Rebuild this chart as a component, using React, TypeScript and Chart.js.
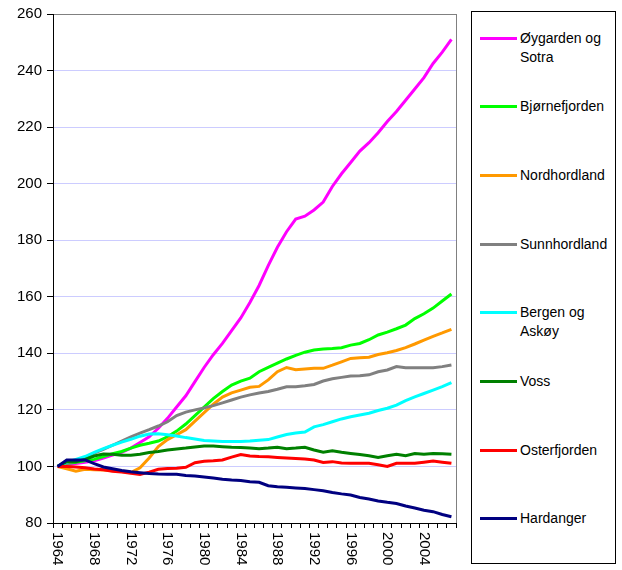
import React, { useEffect, useRef } from "react";
import { Chart, registerables } from "chart.js";

Chart.register(...registerables);

const years: string[] = [];
for (let y = 1964; y <= 2007; y++) years.push(String(y));

const seriesNames = [
  "Øygarden og Sotra",
  "Bjørnefjorden",
  "Nordhordland",
  "Sunnhordland",
  "Bergen og Askøy",
  "Voss",
  "Osterfjorden",
  "Hardanger",
];

const seriesColors = ["#FF00FF", "#00FF00", "#FF9900", "#808080", "#00FFFF", "#008000", "#FF0000", "#000080"];

const oygarden = [100, 100.5, 101, 101.5, 102, 103, 104, 105, 106.5, 108.5, 110.5, 113.5, 117, 121, 125, 130, 135, 139.5, 143.5, 148, 152.5, 158, 164, 171, 177.5, 183, 187.5, 188.5, 190.7, 193.5, 199, 203.5, 207.5, 211.5, 214.5, 218, 222, 225.5, 229.5, 233.5, 237.5, 242.5, 246.5, 251];
const bjornefjorden = [100, 101, 101.5, 102, 102.5, 103.5, 104.5, 105.3, 106.5, 107.5, 108.2, 109, 110.5, 112.5, 115, 118, 121, 124, 126.5, 128.8, 130.2, 131.2, 133.5, 135, 136.5, 138, 139.3, 140.4, 141.2, 141.5, 141.7, 142, 142.9, 143.5, 144.8, 146.5, 147.5, 148.7, 150, 152.3, 154, 156, 158.5, 161];
const nordhordland = [100, 99.2, 98.3, 99, 98.8, 98.7, 98.5, 98.2, 97.8, 99.5, 103, 107, 109.5, 111.2, 113, 116, 119, 122, 124.5, 126, 127, 128, 128.3, 130.6, 133.5, 135, 134.2, 134.5, 134.7, 134.7, 135.8, 137, 138.2, 138.4, 138.6, 139.6, 140.2, 141, 142, 143.3, 144.7, 146, 147.2, 148.5];
const sunnhordland = [100, 101, 102, 103, 104.7, 106, 107.5, 109, 110.5, 111.8, 113, 114.3, 115.8, 118, 119.2, 120, 120.7, 121.5, 122.5, 123.5, 124.5, 125.3, 126, 126.5, 127.3, 128.2, 128.2, 128.5, 129, 130.2, 131, 131.5, 132, 132.1, 132.4, 133.5, 134.1, 135.3, 134.9, 134.9, 134.9, 134.9, 135.3, 135.9];
const bergenAskoy = [100, 101.5, 102.5, 103.5, 105, 106.3, 107.5, 108.6, 109.6, 110.7, 111.5, 111.6, 111.2, 110.8, 110.2, 109.7, 109.2, 109, 108.8, 108.8, 108.8, 109, 109.3, 109.5, 110.4, 111.3, 111.8, 112.2, 114, 114.8, 115.8, 116.8, 117.6, 118.2, 118.8, 119.8, 120.6, 121.7, 123.3, 124.6, 125.8, 127, 128.2, 129.6];
const voss = [100, 101.7, 101.7, 102.5, 103.7, 104.4, 104.3, 104, 104, 104.3, 104.9, 105.3, 105.8, 106.2, 106.5, 106.9, 107.2, 107.2, 107, 106.8, 106.7, 106.5, 106.3, 106.5, 106.8, 106.3, 106.5, 106.8, 105.8, 105, 105.5, 105, 104.6, 104.2, 103.8, 103.2, 103.8, 104.3, 103.8, 104.6, 104.3, 104.6, 104.5, 104.3];
const osterfjorden = [100, 100, 99.8, 99.5, 99.1, 98.8, 98.3, 98, 97.6, 97.2, 98, 99, 99.3, 99.4, 99.7, 101.3, 101.8, 102, 102.3, 103.3, 104.2, 103.7, 103.5, 103.4, 103.2, 103, 102.8, 102.6, 102.3, 101.4, 101.7, 101.2, 101.1, 101.1, 101.1, 100.6, 100, 101.1, 101.1, 101.1, 101.5, 101.9, 101.5, 101.1];
const hardanger = [100, 102.3, 102.3, 102.3, 101, 99.8, 99.2, 98.6, 98.1, 97.8, 97.5, 97.3, 97.2, 97.2, 96.8, 96.6, 96.3, 95.9, 95.5, 95.2, 95, 94.6, 94.4, 93.2, 92.8, 92.6, 92.4, 92.2, 91.8, 91.4, 90.8, 90.3, 89.9, 89, 88.5, 87.8, 87.3, 86.9, 86, 85.3, 84.5, 84, 83, 82.2];

const seriesValues = [oygarden, bjornefjorden, nordhordland, sunnhordland, bergenAskoy, voss, osterfjorden, hardanger];

const yMin = 80;
const yMax = 260;
const yStep = 20;
const labelEvery = 4;

const FONT = "'Liberation Sans', Arial, sans-serif";

const CANVAS_W = 465;
const CANVAS_H = 600;

export default function App() {
  const ref = useRef<HTMLCanvasElement | null>(null);

  useEffect(() => {
    if (!ref.current) return;
    const frame = {
      id: "frameAndLabels",
      afterDraw(chart: any) {
        const { ctx, chartArea } = chart;
        ctx.save();
        ctx.strokeStyle = "#808080";
        ctx.lineWidth = 1;
        ctx.beginPath();
        ctx.moveTo(Math.round(chartArea.right) + 0.5, chartArea.top);
        ctx.lineTo(Math.round(chartArea.right) + 0.5, chartArea.bottom);
        ctx.stroke();
        const xs = chart.scales.x;
        ctx.fillStyle = "#000";
        ctx.font = `15px ${FONT}`;
        ctx.textAlign = "left";
        ctx.textBaseline = "middle";
        years.forEach((lab, i) => {
          if (i % labelEvery !== 0) return;
          const x = xs.getPixelForValue(i);
          ctx.save();
          ctx.translate(x, chartArea.bottom + 9);
          ctx.rotate(Math.PI / 2);
          ctx.fillText(lab, 0, 0);
          ctx.restore();
        });
        ctx.restore();
      },
    };
    const chart = new Chart(ref.current, {
      type: "line",
      data: {
        labels: years,
        datasets: seriesNames.map((name, i) => ({
          label: name,
          data: seriesValues[i],
          borderColor: seriesColors[i],
          backgroundColor: seriesColors[i],
          borderWidth: 3,
          pointRadius: 0,
          tension: 0,
          order: seriesNames.length - i,
        })),
      },
      options: {
        responsive: false,
        animation: false,
        events: [],
        layout: { padding: { top: 13, right: 9, left: 0, bottom: 0 } },
        plugins: { legend: { display: false }, tooltip: { enabled: false } },
        scales: {
          x: {
            type: "category",
            offset: true,
            grid: {
              offset: true,
              drawOnChartArea: false,
              drawTicks: true,
              tickLength: 5,
              tickColor: "#000",
            },
            border: { color: "#000", width: 1 },
            ticks: { autoSkip: false, maxRotation: 0, minRotation: 0, callback: () => "" },
            afterFit: (s: any) => {
              s.height = CANVAS_H - 523;
            },
          },
          y: {
            min: yMin,
            max: yMax,
            grid: {
              color: (c: any) => (c.tick && c.tick.value === yMax ? "#808080" : "#CCCCFF"),
              tickColor: "#000",
              tickLength: 6,
            },
            border: { color: "#000", width: 1 },
            ticks: {
              stepSize: yStep,
              color: "#000",
              padding: 5,
              font: { family: FONT, size: 15 },
            },
            afterFit: (s: any) => {
              s.width = 53;
            },
          },
        },
      },
      plugins: [frame],
    } as any);
    return () => chart.destroy();
  }, []);

  const legendTop0 = 37;
  const legendGap = 68.7;

  return (
    <div style={{ position: "absolute", left: 0, top: 0, width: 622, height: 570, overflow: "hidden", background: "#fff" }}>
      <canvas ref={ref} width={CANVAS_W} height={CANVAS_H} style={{ position: "absolute", left: 0, top: 0, width: CANVAS_W, height: CANVAS_H }} />
      <div
        style={{
          position: "absolute",
          left: 471,
          top: 11,
          width: 145,
          height: 553,
          boxSizing: "border-box",
          border: "1px solid #000",
          fontFamily: FONT,
          fontSize: 14,
          color: "#000",
        }}
      >
        {seriesNames.map((name, i) => {
          const cy = legendTop0 + i * legendGap - 11;
          return (
            <div key={name}>
              <div
                style={{
                  position: "absolute",
                  left: 8,
                  top: cy - 1.5,
                  width: 37,
                  height: 3,
                  background: seriesColors[i],
                }}
              />
              <div
                style={{
                  position: "absolute",
                  left: 48,
                  top: cy - 9.5,
                  width: 94,
                  lineHeight: "19px",
                }}
              >
                {name}
              </div>
            </div>
          );
        })}
      </div>
    </div>
  );
}
